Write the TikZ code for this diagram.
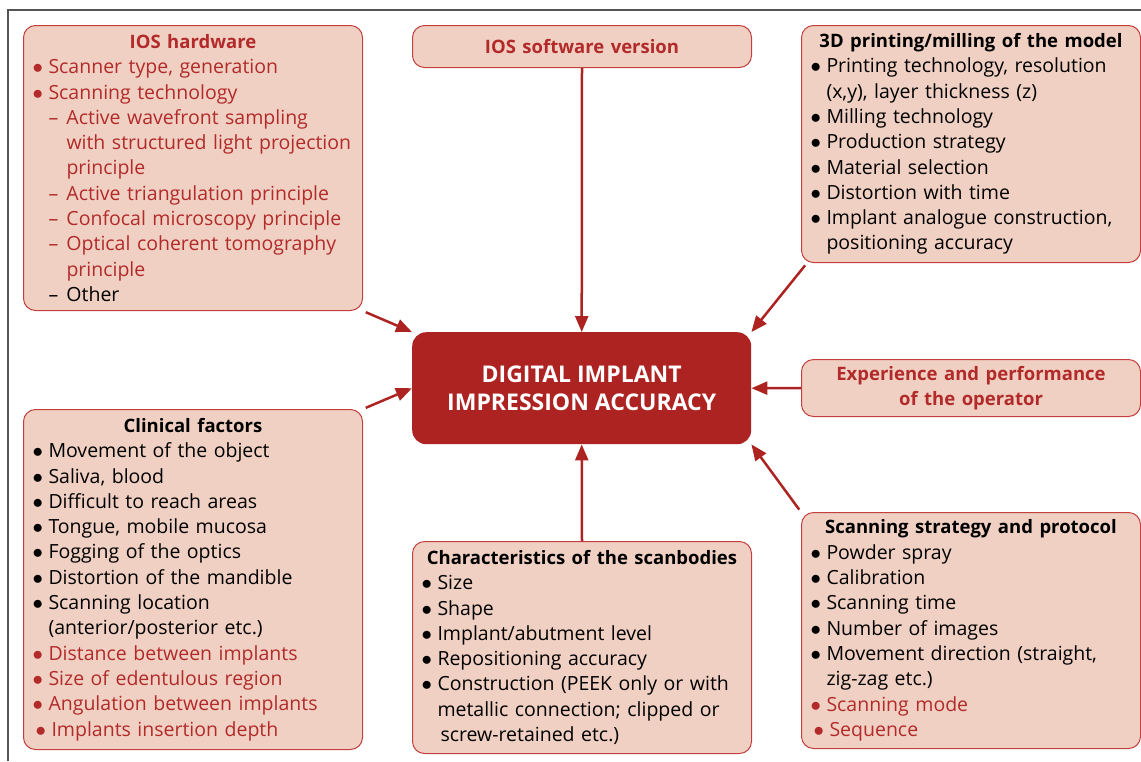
\documentclass[tikz,border=0pt]{standalone}
\usepackage{fontspec}
\setmainfont{Open Sans}
\usepackage{tikz}
\usetikzlibrary{arrows.meta}
\definecolor{boxfill}{HTML}{F0D0C2}
\definecolor{boxline}{HTML}{C4403E}
\definecolor{iosred}{HTML}{B22A2A}
\definecolor{darkred}{HTML}{AD2322}
\definecolor{framegray}{HTML}{555555}
\newcommand{\hd}{\fontsize{18.5}{25.3}\selectfont\bfseries}
\newcommand{\ttl}[1]{{\centering\hd #1\par}}
\newcommand{\itm}[2][0pt]{\par\noindent\hangindent=16pt\hangafter=1\hspace*{#1}\makebox[16pt][l]{$\bullet$}#2}
\newcommand{\subitm}[1]{\par\noindent\hangindent=34pt\hangafter=1\hspace*{16pt}\makebox[18pt][l]{\textendash}#1}
\tikzset{
	factor/.style={draw=boxline,fill=boxfill,line width=1pt,rounded corners=12pt,anchor=north west,inner xsep=9pt,inner ysep=0pt,text width=321pt,align=left,font=\fontsize{19.5}{25.3}\selectfont},
	core/.style={fill=darkred,rounded corners=14pt,anchor=north west,minimum width=339pt,minimum height=112pt,align=center,text=white,font=\fontsize{23}{28.5}\selectfont\bfseries},
	link/.style={draw=darkred,line width=2.5pt,-{Triangle[length=16pt,width=13pt]}}
}

\begin{document}
\begin{tikzpicture}[x=1pt,y=-1pt]
	\useasboundingbox (0,0) rectangle (1141,761);
	\draw[framegray,line width=1.5pt] (8,761) -- (8,10) -- (1141,10);
	\node[core] (acc) at (412,332) {DIGITAL IMPLANT\\IMPRESSION ACCURACY};
	\node[factor,text=iosred,minimum height=285pt] (hw) at (23,25) {\ttl{IOS hardware}\itm{Scanner type, generation}\itm{Scanning technology}\subitm{Active wavefront sampling\newline with structured light projection\newline principle}\subitm{Active triangulation principle}\subitm{Confocal microscopy principle}\subitm{Optical coherent tomography\newline principle}\par\color{black}\subitm{Other}\par};
	\node[factor,text=iosred,align=center,minimum height=42pt] (sw) at (412,25) {\hd IOS software version};
	\node[factor,minimum height=237pt] (print) at (801,25) {\ttl{3D printing/milling of the model}\itm{Printing technology, resolution\newline (x,y), layer thickness (z)}\itm{Milling technology}\itm{Production strategy}\itm{Material selection}\itm{Distortion with time}\itm{Implant analogue construction,\newline positioning accuracy}\par};
	\node[factor,text=iosred,align=center,minimum height=57pt] (oper) at (801,359) {\hd Experience and performance\\\hd of the operator};
	\node[factor,minimum height=340pt] (clin) at (23,409) {\ttl{Clinical factors}\itm{Movement of the object}\itm{Saliva, blood}\itm{Difficult to reach areas}\itm{Tongue, mobile mucosa}\itm{Fogging of the optics}\itm{Distortion of the mandible}\itm{Scanning location\newline (anterior/posterior etc.)}\par\color{iosred}\itm{Distance between implants}\itm{Size of edentulous region}\itm{Angulation between implants}\itm[3pt]{Implants insertion depth}\par};
	\node[factor,minimum height=212pt] (scb) at (412,541) {\ttl{Characteristics of the scanbodies}\itm{Size}\itm{Shape}\itm{Implant/abutment level}\itm{Repositioning accuracy}\itm{Construction (PEEK only or with\newline metallic connection; clipped or\newline \hspace*{3pt}screw-retained etc.)}\par};
	\node[factor,minimum height=236pt] (strat) at (801,512) {\ttl{Scanning strategy and protocol}\itm{Powder spray}\itm{Calibration}\itm{Scanning time}\itm{Number of images}\itm{Movement direction (straight,\newline zig-zag etc.)}\par\color{iosred}\itm{Scanning mode}\itm[3pt]{Sequence}\par};
	\draw[link,shorten <=3pt] (hw.south east) -- (acc.north west);
	\draw[link] (sw.south) -- (acc.north);
	\draw[link,shorten <=3pt] ([xshift=6pt]print.south west) -- (acc.north east);
	\draw[link] (oper.west) -- (acc.east);
	\draw[link,shorten <=3pt] (strat.north west) -- (acc.south east);
	\draw[link] (scb.north) -- (acc.south);
	\draw[link,shorten <=3pt] (clin.north east) -- (acc.west);
\end{tikzpicture}
\end{document}
